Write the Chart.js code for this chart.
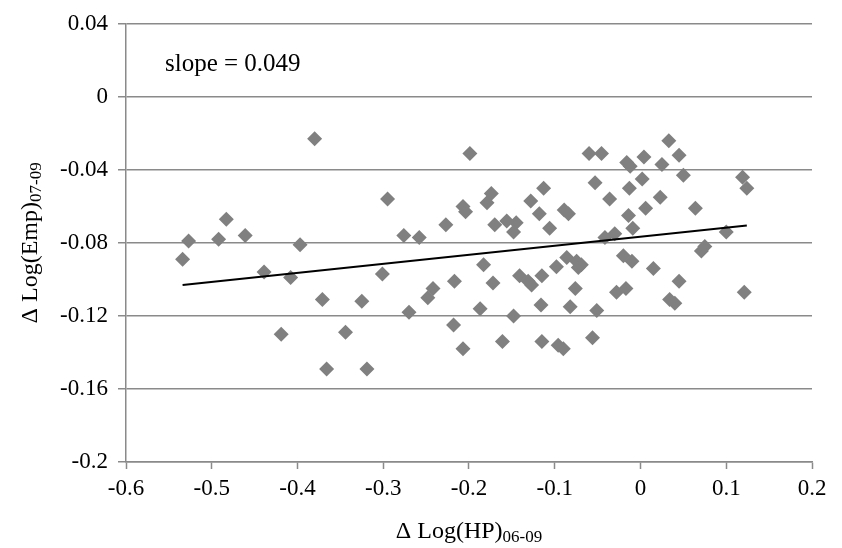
<!DOCTYPE html>
<html>
<head>
<meta charset="utf-8">
<script src="https://cdn.jsdelivr.net/npm/chart.js@4.4.1/dist/chart.umd.min.js"></script>
<style>
  html, body { margin: 0; padding: 0; background: #ffffff; }
  #wrap { width: 842px; height: 548px; position: relative; }
</style>
</head>
<body>
<div id="wrap"><canvas id="c" width="842" height="548"></canvas></div>
<script>
// ---- data ----
const hpChange = [
  -0.534, -0.527, -0.492, -0.483, -0.461, -0.439, -0.419, -0.408, -0.397, -0.380,
  -0.371, -0.366, -0.344, -0.325, -0.319, -0.301, -0.295, -0.276, -0.270, -0.258,
  -0.248, -0.242, -0.227, -0.217, -0.218, -0.207, -0.207, -0.204, -0.199, -0.187,
  -0.183, -0.179, -0.174, -0.172, -0.170, -0.161, -0.156, -0.148, -0.148, -0.145,
  -0.141, -0.131, -0.127, -0.128, -0.118, -0.115, -0.116, -0.115, -0.113, -0.106,
  -0.098, -0.096, -0.090, -0.089, -0.084, -0.086, -0.082, -0.076, -0.0745, -0.069,
  -0.0725, -0.060, -0.056, -0.053, -0.051, -0.0455, -0.0415, -0.036, -0.030, -0.028,
  -0.020, -0.017, -0.016, -0.014, -0.013, -0.012, -0.010, -0.009, 0.002, 0.004,
  0.006, 0.015, 0.023, 0.025, 0.033, 0.034, 0.040, 0.045, 0.045, 0.050,
  0.064, 0.071, 0.075, 0.100, 0.119, 0.121, 0.124
];
const empChange = [
  -0.089, -0.079, -0.078, -0.067, -0.076, -0.096, -0.130, -0.099, -0.081, -0.023,
  -0.111, -0.149, -0.129, -0.112, -0.149, -0.097, -0.056, -0.076, -0.118, -0.077,
  -0.110, -0.105, -0.070, -0.101, -0.125, -0.138, -0.060, -0.063, -0.031, -0.116,
  -0.092, -0.058, -0.053, -0.102, -0.070, -0.134, -0.068, -0.120, -0.074, -0.069,
  -0.098, -0.101, -0.103, -0.057, -0.064, -0.098, -0.114, -0.134, -0.050, -0.072,
  -0.093, -0.136, -0.138, -0.062, -0.064, -0.088, -0.115, -0.105, -0.090, -0.092,
  -0.0935, -0.031, -0.132, -0.047, -0.117, -0.031, -0.077, -0.056, -0.075, -0.107,
  -0.087, -0.105, -0.036, -0.065, -0.050, -0.038, -0.090, -0.072, -0.045, -0.033,
  -0.061, -0.094, -0.055, -0.037, -0.024, -0.111, -0.113, -0.032, -0.101, -0.043,
  -0.061, -0.0845, -0.082, -0.074, -0.044, -0.107, -0.050
];
// fitted trend line end points
const trendX = [-0.534, 0.124];
const trendY = [-0.103, -0.0705];
const slopeText = 'slope = 0.049';

const xTickValues = [-0.6, -0.5, -0.4, -0.3, -0.2, -0.1, 0, 0.1, 0.2];
const xTickLabels = ['-0.6', '-0.5', '-0.4', '-0.3', '-0.2', '-0.1', '0', '0.1', '0.2'];
const yTickValues = [-0.2, -0.16, -0.12, -0.08, -0.04, 0, 0.04];
const yTickLabels = ['-0.2', '-0.16', '-0.12', '-0.08', '-0.04', '0', '0.04'];

const xTitleMain = '\u0394 Log(HP)';
const xTitleSub = '06-09';
const yTitleMain = '\u0394 Log(Emp)';
const yTitleSub = '07-09';

// ---- rendering ----
const FONT = '"Liberation Serif", "Times New Roman", serif';
const GRID = '#8a8a8a';

const scatterPts = hpChange.map((x, i) => ({ x: x, y: empChange[i] }));
const trendPts = trendX.map((x, i) => ({ x: x, y: trendY[i] }));

function drawSubTitle(ctx, main, sub, cx, cy, rot, size, subSize) {
  ctx.save();
  ctx.translate(cx, cy);
  ctx.rotate(rot);
  ctx.fillStyle = '#000';
  ctx.textBaseline = 'alphabetic';
  ctx.font = size + 'px ' + FONT;
  const wMain = ctx.measureText(main).width;
  ctx.font = subSize + 'px ' + FONT;
  const wSub = ctx.measureText(sub).width;
  const total = wMain + wSub;
  const x0 = -total / 2;
  const base = size * 0.35;
  ctx.font = size + 'px ' + FONT;
  ctx.textAlign = 'left';
  ctx.fillText(main, x0, base);
  ctx.font = subSize + 'px ' + FONT;
  ctx.fillText(sub, x0 + wMain, base + 4);
  ctx.restore();
}

const extras = {
  id: 'extras',
  afterDraw(chart) {
    const ctx = chart.ctx;
    const a = chart.chartArea;
    // slope annotation
    ctx.save();
    ctx.font = '25px ' + FONT;
    ctx.fillStyle = '#000';
    ctx.textAlign = 'left';
    ctx.textBaseline = 'alphabetic';
    ctx.fillText(slopeText, a.left + 39, a.top + 47);
    ctx.restore();
    drawSubTitle(ctx, xTitleMain, xTitleSub, (a.left + a.right) / 2, 529.6, 0, 24, 17);
    drawSubTitle(ctx, yTitleMain, yTitleSub, 29, (a.top + a.bottom) / 2, -Math.PI / 2, 24, 17);
  }
};

new Chart(document.getElementById('c'), {
  type: 'scatter',
  data: {
    datasets: [
      {
        label: 'trend',
        type: 'line',
        data: trendPts,
        borderColor: '#000000',
        borderWidth: 2,
        pointRadius: 0,
        fill: false,
        order: 0
      },
      {
        label: 'regions',
        data: scatterPts,
        pointStyle: 'rectRot',
        pointRadius: 7.5,
        pointHoverRadius: 7.5,
        backgroundColor: '#808080',
        borderColor: '#808080',
        borderWidth: 0,
        order: 1
      }
    ]
  },
  options: {
    responsive: false,
    animation: false,
    devicePixelRatio: 1,
    layout: { padding: { left: 0, right: 30, top: 18, bottom: 0 } },
    plugins: { legend: { display: false }, tooltip: { enabled: false } },
    scales: {
      x: {
        type: 'linear',
        min: -0.6,
        max: 0.2,
        afterBuildTicks: (s) => { s.ticks = xTickValues.map(v => ({ value: v })); },
        afterFit: (s) => { s.height = 86; },
        ticks: {
          autoSkip: false,
          maxRotation: 0,
          padding: 6,
          color: '#000',
          font: { family: FONT, size: 23 },
          callback: (v, i) => xTickLabels[i]
        },
        grid: {
          drawOnChartArea: false,
          drawTicks: true,
          tickLength: 7,
          tickColor: GRID,
          tickWidth: 1.5
        },
        border: { display: true, color: GRID, width: 1.5 }
      },
      y: {
        type: 'linear',
        min: -0.2,
        max: 0.04,
        afterBuildTicks: (s) => { s.ticks = yTickValues.map(v => ({ value: v })); },
        afterFit: (s) => { s.width = 126; },
        ticks: {
          autoSkip: false,
          padding: 10,
          color: '#000',
          font: { family: FONT, size: 23 },
          callback: (v, i) => yTickLabels[i]
        },
        grid: {
          drawOnChartArea: true,
          drawTicks: true,
          tickLength: 8,
          color: GRID,
          lineWidth: 1.5,
          tickColor: GRID,
          tickWidth: 1.5
        },
        border: { display: true, color: GRID, width: 1.5 }
      }
    }
  },
  plugins: [extras]
});
</script>
</body>
</html>
